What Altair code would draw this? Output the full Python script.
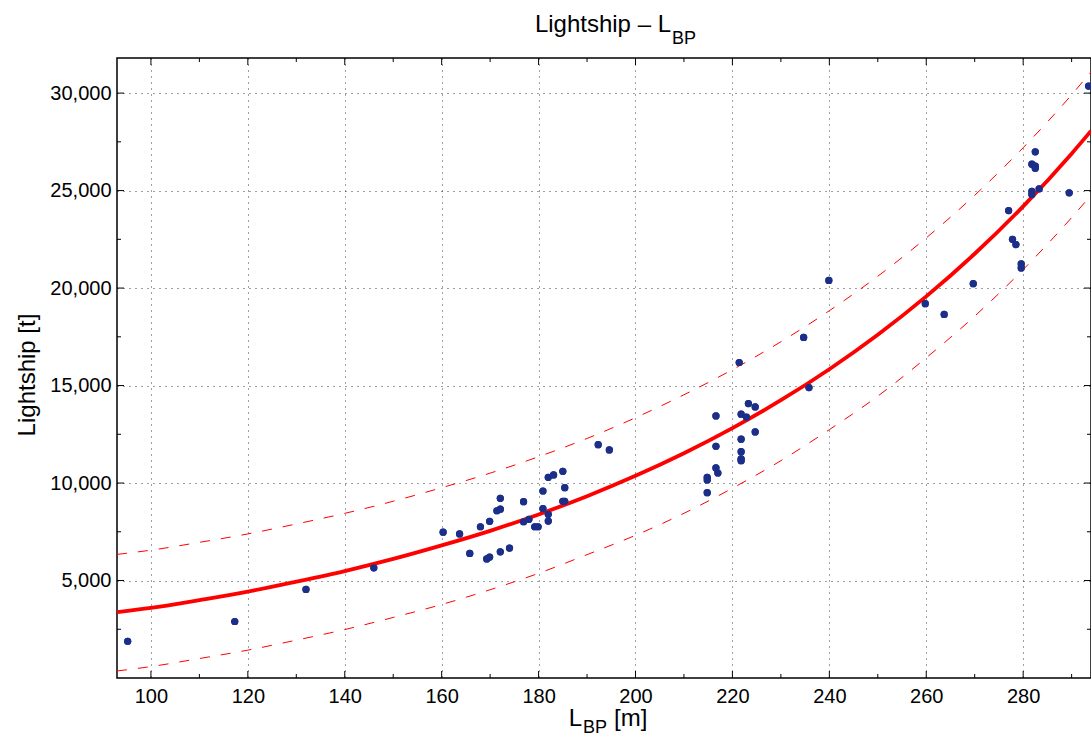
import altair as alt
import pandas as pd

# ---- data ----
pt_x = [95.2, 117.3, 132.0, 146.0, 160.3, 163.7, 165.8, 168.0, 169.3, 169.9,
        169.9, 171.4, 172.1, 172.1, 172.1, 174.0, 176.9, 176.9, 178.0, 179.2,
        179.9, 180.9, 180.9, 182.0, 183.1, 182.0, 182.0, 185.0, 185.4, 185.0,
        185.4, 192.3, 194.6, 216.6, 216.6, 216.6, 217.0, 214.8, 214.8, 214.8,
        221.4, 221.8, 222.9, 221.8, 221.8, 221.8, 221.8, 223.3, 224.7, 224.7,
        234.7, 235.8, 239.9, 259.8, 263.7, 269.7, 277.0, 277.8, 278.5, 279.6,
        279.6, 281.8, 281.8, 283.3, 281.8, 282.5, 282.5, 282.5, 289.5, 293.5]
pt_y = [1885, 2897, 4541, 5651, 7480, 7390, 6390, 7757, 6105, 6200,
        8034, 8579, 8660, 9216, 6473, 6663, 9041, 8014, 8137, 7757,
        7757, 9591, 8682, 10295, 10413, 8394, 8050, 10603, 9760, 9062,
        9062, 11969, 11697, 13443, 11887, 10772, 10515, 10295, 10156, 9503,
        16182, 13531, 13377, 12247, 11610, 11235, 11147, 14075, 13906, 12622,
        17466, 14897, 20394, 19197, 18648, 20224, 23975, 22500, 22228, 21236,
        21031, 24966, 24797, 25090, 26353, 26250, 26147, 26990, 24884, 30360]

fit_x = [93, 100, 110, 120, 130, 140, 150, 160, 170, 180, 190, 200,
         210, 220, 230, 240, 250, 260, 270, 280, 290, 294]
fit_mid = [3380, 3596, 3998, 4430, 4941, 5485, 6106, 6800, 7547, 8390, 9327, 10369,
           11527, 12815, 14246, 15838, 17607, 19574, 21760, 24191, 26894, 28060]
fit_hi = [6340, 6556, 6958, 7390, 7901, 8445, 9066, 9760, 10507, 11350, 12287, 13349,
          14527, 15815, 17246, 18838, 20607, 22574, 24760, 27201, 29914, 31090]
fit_lo = [360, 586, 998, 1430, 1941, 2485, 3106, 3770, 4527, 5370, 6327, 7319,
          8447, 9735, 11146, 12738, 14457, 16424, 18560, 20951, 23614, 24760]

x_major = [100, 120, 140, 160, 180, 200, 220, 240, 260, 280]
x_minor = [110, 130, 150, 170, 190, 210, 230, 250, 270, 290]
y_major = [5000, 10000, 15000, 20000, 25000, 30000]
y_minor = [2500, 7500, 12500, 17500, 22500, 27500]

W, H = 974, 620
FONT = "Liberation Sans"
MAJ, MIN = 7, 4

xs = alt.Scale(domain=[93, 294], nice=False, zero=False)
ys = alt.Scale(domain=[0, 31800], nice=False, zero=False)

pts = pd.DataFrame({"L": pt_x, "W": pt_y})
fit = pd.DataFrame({"L": fit_x, "mid": fit_mid, "hi": fit_hi, "lo": fit_lo})

grid_kw = dict(grid=True, gridDash=[1, 5], gridColor="#000000", gridOpacity=0.75,
               gridWidth=1, ticks=False, domain=False, labelFontSize=20,
               labelFont=FONT, labelColor="black", title="")

xaxis = alt.Axis(values=x_major, labelPadding=8, **grid_kw)
yaxis = alt.Axis(values=y_major, labelExpr="format(datum.value, ',')",
                 labelPadding=6, **grid_kw)


def X(field):
    return alt.X(field, type="quantitative", scale=xs, axis=xaxis)


def Y(field):
    return alt.Y(field, type="quantitative", scale=ys, axis=yaxis)


scatter = alt.Chart(pts).mark_circle(size=52, color="#1b2e8a", opacity=1).encode(
    x=X("L"), y=Y("W"))

base_fit = alt.Chart(fit)
mid_line = base_fit.mark_line(color="#ff0000", strokeWidth=3.8, interpolate="monotone").encode(
    x=X("L"), y=Y("mid"))
hi_line = base_fit.mark_line(color="#ff0000", strokeWidth=1, strokeDash=[10, 11],
                             interpolate="monotone").encode(x=X("L"), y=Y("hi"))
lo_line = base_fit.mark_line(color="#ff0000", strokeWidth=1, strokeDash=[10, 11],
                             interpolate="monotone").encode(x=X("L"), y=Y("lo"))


def xticks(vals, length):
    d = alt.Chart(pd.DataFrame({"v": vals}))
    bottom = d.mark_rule(color="black", strokeWidth=1).encode(
        x=X("v"), y=alt.value(H), y2=alt.value(H - length))
    top = d.mark_rule(color="black", strokeWidth=1).encode(
        x=X("v"), y=alt.value(0), y2=alt.value(length))
    return [bottom, top]


def yticks(vals, length):
    d = alt.Chart(pd.DataFrame({"v": vals}))
    left = d.mark_rule(color="black", strokeWidth=1).encode(
        y=Y("v"), x=alt.value(0), x2=alt.value(length))
    right = d.mark_rule(color="black", strokeWidth=1).encode(
        y=Y("v"), x=alt.value(W), x2=alt.value(W - length))
    return [left, right]


one = pd.DataFrame({"k": [0]})


def label(text, x, y, size, align="left", angle=0):
    kw = dict(text=text, align=align, baseline="alphabetic", fontSize=size,
              font=FONT, color="black")
    if angle:
        kw["angle"] = angle
    return alt.Chart(one).mark_text(**kw).encode(x=alt.value(x), y=alt.value(y))


texts = [
    label("Lightship \u2013 L", 554, -26, 24, align="right"),
    label("BP", 555, -14.5, 18),
    label("L", 465, 668, 24, align="right"),
    label("BP", 466, 675, 18),
    label("[m]", 497, 668, 24),
    label("Lightship [t]", -82, 317, 24, align="center", angle=270),
]

layers = ([scatter] + xticks(x_major, MAJ) + xticks(x_minor, MIN) + yticks(y_major, MAJ)
          + yticks(y_minor, MIN) + [hi_line, lo_line, mid_line, scatter] + texts)

chart = alt.layer(*layers).properties(
    width=W, height=H,
    padding={"left": 117, "top": 58, "right": 0, "bottom": 58},
    autosize=alt.AutoSizeParams(type="none"),
    background="white",
).configure_view(stroke="black", strokeWidth=1.5)

chart.save("out.html", embed_options={"renderer": "svg", "actions": False})
